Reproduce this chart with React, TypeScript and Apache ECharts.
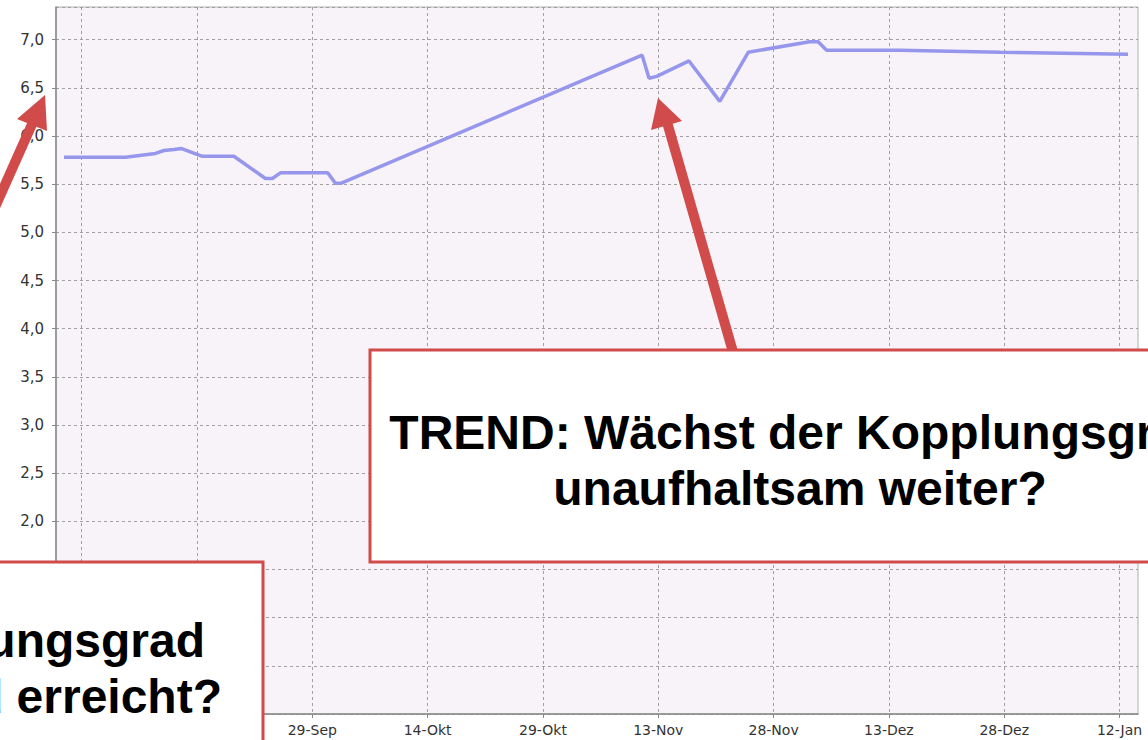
import React, { useEffect, useRef } from "react";
import * as echarts from "echarts";

// x values: days after 30 Aug 2008 (fractional where the sample fell between days)
const dayOffsets = [
  -2.3, 5.7, 9.6, 10.7, 12.0, 13.0, 15.7, 19.8, 23.9, 24.8, 25.9, 32.0, 33.0, 33.7,
  72.9, 73.8, 74.8, 79.0, 83.0, 86.7, 94.7, 95.8, 96.9, 106.4, 119.5, 136.1,
];
// Kopplungsgrad values
const kopplungsgrad = [
  5.78, 5.78, 5.82, 5.85, 5.86, 5.87, 5.79, 5.79, 5.56, 5.56, 5.62, 5.62, 5.51, 5.51,
  6.84, 6.6, 6.62, 6.78, 6.36, 6.87, 6.98, 6.98, 6.89, 6.89, 6.87, 6.85,
];
// x ticks: one every 15 days starting 30 Aug (days after 30 Aug)
const xTickDays = [0, 15, 30, 45, 60, 75, 90, 105, 120, 135];
const xTickLabels = [
  "30-Aug", "14-Sep", "29-Sep", "14-Okt", "29-Okt", "13-Nov", "28-Nov", "13-Dez", "28-Dez", "12-Jan",
];
// y tick labels that are visible (the lower ones are hidden by the annotation box)
const yVisibleFrom = 2.0;
const trendText = ["TREND: Wächst der Kopplungsgrad", "unaufhaltsam weiter?"];
const saturationText = ["Ist der maximale Kopplungsgrad", "bald erreicht?"];

const RED = "#d14b4b";
const FONT = '"Liberation Sans", Arial, sans-serif';
const AXIS_FONT = '"DejaVu Sans", sans-serif';

export default function App() {
  const ref = useRef<HTMLDivElement>(null);
  useEffect(() => {
    if (!ref.current) return;
    const chart = echarts.init(ref.current, null, { renderer: "svg" });
    const data = dayOffsets.map((d, i) => [d, kopplungsgrad[i]]);
    const boxText = (x: number, y: number, text: string, align: string) => ({
      type: "text",
      x,
      y,
      z: 110,
      style: {
        text,
        fill: "#000000",
        fontSize: 48,
        fontWeight: "bold",
        fontFamily: FONT,
        align,
        verticalAlign: "top",
        lineHeight: 56,
      },
    });
    chart.setOption({
      animation: false,
      backgroundColor: "#ffffff",
      grid: {
        left: 56,
        top: 7,
        right: 10,
        bottom: 26,
        show: true,
        backgroundColor: "#f7f3f8",
        borderColor: "#b0b0b0",
        borderWidth: 1,
      },
      xAxis: {
        type: "value",
        min: -3.34,
        max: 137.4,
        axisLine: { show: true, onZero: false, lineStyle: { color: "#888888", width: 1.5 } },
        axisTick: { show: true, length: 4, customValues: xTickDays, lineStyle: { color: "#888888" } },
        axisLabel: {
          customValues: xTickDays,
          color: "#333333",
          fontSize: 14,
          fontFamily: AXIS_FONT,
          margin: 9,
          formatter: (v: number) => {
            const idx = xTickDays.indexOf(Math.round(v));
            return idx >= 0 ? xTickLabels[idx] : "";
          },
        },
        splitLine: { show: true, lineStyle: { color: "#a0a0a0", type: [3, 3], width: 1 } },
      },
      yAxis: {
        type: "value",
        min: 0,
        max: 7.34,
        interval: 0.5,
        axisLine: { show: true, onZero: false, lineStyle: { color: "#888888", width: 1.5 } },
        axisTick: { show: true, length: 4, lineStyle: { color: "#888888" } },
        axisLabel: {
          showMaxLabel: false,
          color: "#333333",
          fontSize: 15,
          fontFamily: AXIS_FONT,
          margin: 12,
          formatter: (v: number) => (v >= yVisibleFrom - 1e-6 ? v.toFixed(1).replace(".", ",") : ""),
        },
        splitLine: { show: true, lineStyle: { color: "#a0a0a0", type: [3, 3], width: 1 } },
      },
      series: [
        {
          type: "line",
          data,
          symbol: "none",
          smooth: false,
          lineStyle: { color: "#9696ec", width: 3.5 },
        },
      ],
      graphic: [
        // left arrow
        { type: "line", z: 100, shape: { x1: -8, y1: 214, x2: 33, y2: 122 }, style: { stroke: RED, lineWidth: 10 } },
        { type: "polygon", z: 100, shape: { points: [[45, 95], [17, 119], [47, 131]] }, style: { fill: RED } },
        // right arrow
        { type: "line", z: 100, shape: { x1: 733, y1: 352, x2: 667, y2: 122 }, style: { stroke: RED, lineWidth: 10 } },
        { type: "polygon", z: 100, shape: { points: [[658, 98], [651, 130], [682, 121]] }, style: { fill: RED } },
        // right box
        {
          type: "rect",
          z: 105,
          shape: { x: 370, y: 350, width: 900, height: 212 },
          style: { fill: "#ffffff", stroke: RED, lineWidth: 3 },
        },
        boxText(800, 404, trendText[0], "center"),
        boxText(800, 460, trendText[1], "center"),
        // left box
        {
          type: "rect",
          z: 105,
          shape: { x: -20, y: 562, width: 283, height: 220 },
          style: { fill: "#ffffff", stroke: RED, lineWidth: 3 },
        },
        boxText(205, 612, saturationText[0], "right"),
        boxText(222, 668, saturationText[1], "right"),
      ],
    });
    return () => chart.dispose();
  }, []);
  return (
    <div
      ref={ref}
      style={{ position: "fixed", left: 0, top: 0, width: 1148, height: 740 }}
    />
  );
}
